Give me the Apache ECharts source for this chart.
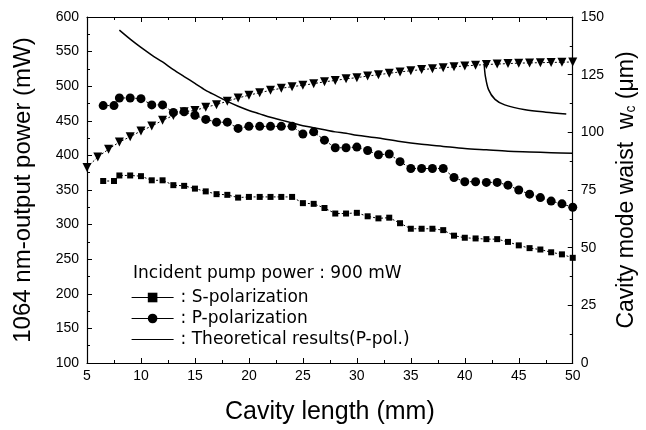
<!DOCTYPE html>
<html>
<head>
<meta charset="utf-8">
<script src="https://cdn.jsdelivr.net/npm/echarts@6/dist/echarts.min.js"></script>
<style>
  html, body { margin: 0; padding: 0; background: #fff; }
  #chart { width: 646px; height: 430px; }
</style>
</head>
<body>
<div id="chart"></div>
<script>
// measured points (cavity length in mm)
var measuredLength = [6.5, 7.5, 8, 9, 10, 11, 12, 13, 14, 15, 16, 17, 18, 19, 20, 21, 22, 23, 24, 25,
  26, 27, 28, 29, 30, 31, 32, 33, 34, 35, 36, 37, 38, 39, 40, 41, 42, 43, 44, 45, 46, 47, 48, 49, 50];
var sPolPower = [363, 363, 371, 371, 370, 364, 364, 357, 356, 352, 348, 344, 343, 339, 340, 340, 340, 340, 340, 331,
  330, 324, 316, 316, 317, 312, 309, 310, 302, 294, 294, 294, 292, 284, 281, 280, 279, 279, 275, 270, 266, 264, 260, 257, 252];
var pPolPower = [472, 472, 483, 483, 482, 473, 473, 462, 463, 458, 452, 448, 448, 439, 442, 442, 442, 442, 442, 431,
  434, 422, 411, 411, 412, 407, 401, 402, 391, 381, 381, 381, 381, 368, 362, 362, 361, 361, 357, 350, 344, 339, 334, 330, 325];

// cavity mode waist (um), right axis
var waistLength = [5, 6, 7, 8, 9, 10, 11, 12, 13, 14, 15, 16, 17, 18, 19, 20, 21, 22, 23, 24, 25, 26, 27,
  28, 29, 30, 31, 32, 33, 34, 35, 36, 37, 38, 39, 40, 41, 42, 43, 44, 45, 46, 47, 48, 49, 50];
var waist = [84.8, 89.3, 92.7, 95.8, 98.1, 100.6, 102.7, 105.2, 107.3, 108.9, 109.5, 110.9, 112, 113.5, 114.9, 116.1,
  117.2, 118.2, 119.1, 119.8, 120.4, 121.1, 121.9, 122.5, 123.2, 123.7, 124.4, 125, 125.6, 126.2, 126.7, 127.2,
  127.6, 128, 128.4, 128.8, 129.1, 129.4, 129.6, 129.8, 130, 130.1, 130.2, 130.3, 130.4, 130.5];

// theoretical curve (P-pol.), two branches
var theoryLength = [8, 9, 10, 11, 12, 13, 14, 15, 16, 17, 18, 19, 20, 21, 22, 23, 24, 25, 26, 27, 28, 29, 30,
  32, 34, 36, 38, 40, 42, 44, 46, 48, 50];
var theoryPower = [581, 568, 556, 545, 535, 524, 514, 504, 494, 486, 478, 471, 465, 460, 455, 451, 447, 443, 440,
  437, 434, 432, 429, 425, 420, 416, 413, 410, 408, 406, 405, 404, 403];
var theory2Length = [41.8, 41.9, 42.2, 42.8, 43.7, 45.6, 47.5, 49.4];
var theory2Power = [531, 515, 495, 481, 473, 466, 462.5, 460];

function pairs(xs, ys) {
  var out = [];
  for (var i = 0; i < xs.length; i++) out.push([xs[i], ys[i]]);
  return out;
}

var font = 'Liberation Sans, Arial, sans-serif';
var legendFont = 'DejaVu Sans, sans-serif';
var chart = echarts.init(document.getElementById('chart'));

chart.setOption({
  animation: false,
  title: {
    text: 'Incident pump power : 900 mW',
    left: 133,
    top: 265,
    padding: 0,
    textStyle: { fontFamily: legendFont, fontSize: 17, fontWeight: 'normal', color: '#000' }
  },
  legend: {
    orient: 'vertical',
    left: 131,
    top: 289,
    padding: 0,
    itemWidth: 42,
    itemHeight: 12,
    itemGap: 4,
    data: [
      { name: 'S-polarization' },
      { name: 'P-polarization' },
      { name: 'Theoretical results(P-pol.)', itemStyle: { opacity: 0 } }
    ],
    formatter: ': {name}',
    lineStyle: { type: 'solid', width: 1.2, color: '#000' },
    textStyle: { fontFamily: legendFont, fontSize: 17, color: '#000', padding: [0, 0, 0, 2] }
  },
  grid: { left: 87, right: 71, top: 17, bottom: 66 },
  xAxis: [{
    type: 'value', min: 5, max: 50, interval: 5,
    name: 'Cavity length (mm)', nameLocation: 'middle', nameGap: 37,
    nameTextStyle: { fontFamily: font, fontSize: 25, color: '#000' },
    axisLine: { lineStyle: { color: '#000', width: 1.2 } },
    axisTick: { inside: true, length: 5, lineStyle: { color: '#000' } },
    minorTick: { show: true, splitNumber: 2, length: 3, lineStyle: { color: '#000' } },
    axisLabel: { fontFamily: font, fontSize: 14, color: '#000', margin: 6 },
    splitLine: { show: false }
  }, {
    type: 'value', min: 5, max: 50, interval: 5, position: 'top',
    axisLine: { lineStyle: { color: '#000', width: 1.2 } },
    axisTick: { inside: true, length: 5, lineStyle: { color: '#000' } },
    minorTick: { show: true, splitNumber: 2, length: 3, lineStyle: { color: '#000' } },
    axisLabel: { show: false },
    splitLine: { show: false }
  }],
  yAxis: [{
    type: 'value', min: 100, max: 600, interval: 50,
    name: '1064 nm-output power (mW)', nameLocation: 'middle', nameGap: 52, nameRotate: 90,
    nameTextStyle: { fontFamily: font, fontSize: 24, color: '#000' },
    axisLine: { show: true, lineStyle: { color: '#000', width: 1.2 } },
    axisTick: { show: true, inside: true, length: 5, lineStyle: { color: '#000' } },
    minorTick: { show: true, splitNumber: 2, length: 3, lineStyle: { color: '#000' } },
    axisLabel: { fontFamily: font, fontSize: 14, color: '#000', margin: 8 },
    splitLine: { show: false }
  }, {
    type: 'value', min: 0, max: 150, interval: 25, position: 'right',
    name: 'Cavity mode waist  w{sub|c} (μm)', nameLocation: 'middle', nameGap: 41, nameRotate: 90,
    nameTextStyle: {
      fontFamily: font, fontSize: 23, color: '#000',
      rich: { sub: { fontFamily: font, fontSize: 14, color: '#000', verticalAlign: 'bottom', padding: [9, 0, 0, 0] } }
    },
    axisLine: { show: true, lineStyle: { color: '#000', width: 1.2 } },
    axisTick: { show: true, inside: true, length: 5, lineStyle: { color: '#000' } },
    minorTick: { show: true, splitNumber: 2, length: 3, lineStyle: { color: '#000' } },
    axisLabel: { fontFamily: font, fontSize: 14, color: '#000', margin: 8 },
    splitLine: { show: false }
  }],
  series: [{
    name: 'S-polarization',
    type: 'line',
    data: pairs(measuredLength, sPolPower),
    symbol: 'rect', symbolSize: 6,
    itemStyle: { color: '#000' },
    lineStyle: { color: '#000', width: 1, type: [2, 2] }
  }, {
    name: 'P-polarization',
    type: 'line',
    data: pairs(measuredLength, pPolPower),
    symbol: 'circle', symbolSize: 9,
    itemStyle: { color: '#000' },
    lineStyle: { color: '#000', width: 1, type: [2, 2] }
  }, {
    name: 'waist',
    type: 'line',
    yAxisIndex: 1,
    data: pairs(waistLength, waist),
    symbol: 'triangle', symbolRotate: 180, symbolSize: 9,
    itemStyle: { color: '#000' },
    lineStyle: { color: '#000', width: 1, type: [2, 2] }
  }, {
    name: 'Theoretical results(P-pol.)',
    type: 'line',
    data: pairs(theoryLength, theoryPower),
    smooth: 0.3,
    showSymbol: false, symbol: 'none',
    itemStyle: { color: '#000' },
    lineStyle: { color: '#000', width: 1.5 }
  }, {
    name: 'Theoretical results(P-pol.)',
    type: 'line',
    data: pairs(theory2Length, theory2Power),
    smooth: 0.3,
    showSymbol: false, symbol: 'none',
    itemStyle: { color: '#000' },
    lineStyle: { color: '#000', width: 1.5 }
  }]
});
</script>
</body>
</html>
